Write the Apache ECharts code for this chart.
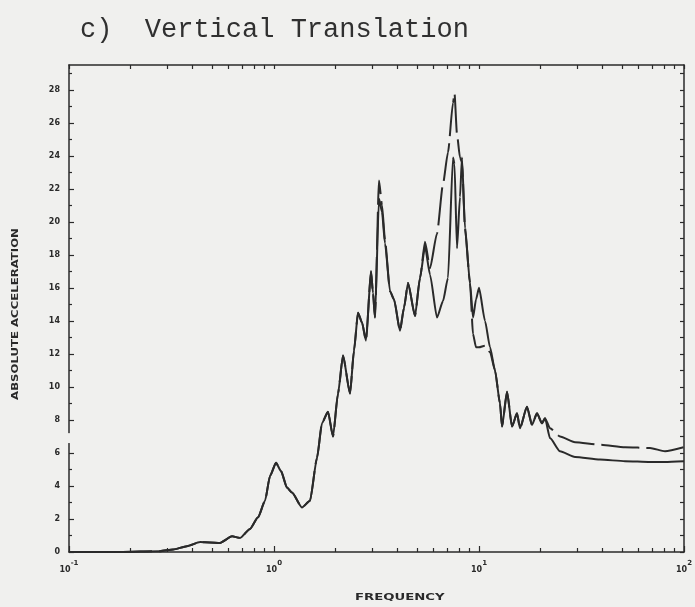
<!DOCTYPE html>
<html>
<head>
<meta charset="utf-8">
<script src="https://cdn.jsdelivr.net/npm/echarts@6/dist/echarts.min.js"></script>
<style>
  html, body { margin: 0; padding: 0; background: #f0f0ee; }
  #chart { width: 695px; height: 607px; }
</style>
</head>
<body>
<div id="chart"></div>
<script>
// Response spectrum, vertical translation: frequency (Hz) vs absolute acceleration
const frequency = [
  0.100, 0.178, 0.278, 0.322, 0.376, 0.436, 0.487, 0.545, 0.624, 0.683,
  0.764, 0.836, 0.904, 0.956, 1.023, 1.082, 1.157, 1.224, 1.369, 1.498,
  1.621, 1.714, 1.834, 1.940, 2.052, 2.171, 2.349, 2.456, 2.569, 2.687,
  2.810, 2.973, 3.040, 3.109, 3.252, 3.364, 3.479, 3.681, 3.850, 4.118,
  4.307, 4.506, 4.873, 5.154, 5.453, 5.768, 6.240, 6.674, 7.058, 7.467,
  7.593, 7.810, 8.077, 8.261, 8.546, 9.040, 9.350, 9.670, 10.00, 10.70,
  11.32, 11.97, 12.66, 12.95, 13.70, 14.49, 15.32, 15.85, 17.14, 18.13,
  19.18, 20.29, 20.99, 22.20, 24.84, 29.40, 38.92, 51.55, 68.26, 80.79,
  100.0
];
const solidAcc = [
  0, 0, 0.05, 0.15, 0.35, 0.6, 0.58, 0.55, 0.95, 0.85,
  1.4, 2.1, 3.1, 4.6, 5.4, 4.9, 3.9, 3.6, 2.7, 3.1,
  5.7, 7.8, 8.5, 7.0, 9.6, 11.9, 9.6, 12.2, 14.5, 13.9,
  12.8, 17.0, 15.7, 14.2, 21.4, 20.6, 18.7, 15.8, 15.3, 13.4,
  14.8, 16.3, 14.3, 16.6, 18.5, 16.8, 14.2, 15.2, 16.6, 23.9,
  23.5, 18.4, 21.5, 23.9, 19.6, 16.3, 14.2, 15.3, 16.0, 14.0,
  12.4, 11.0, 9.0, 7.6, 9.7, 7.6, 8.4, 7.5, 8.8, 7.7,
  8.4, 7.8, 8.1, 6.9, 6.1, 5.75, 5.6, 5.5, 5.45, 5.45,
  5.5
];
const dashedAcc = [
  0, 0, 0.05, 0.15, 0.35, 0.6, 0.58, 0.55, 0.95, 0.85,
  1.4, 2.1, 3.1, 4.6, 5.4, 4.9, 3.9, 3.6, 2.7, 3.1,
  5.7, 7.8, 8.5, 7.0, 9.6, 11.9, 9.6, 12.2, 14.5, 13.9,
  12.8, 17.0, 15.7, 14.2, 22.5, 21.0, 18.9, 15.8, 15.3, 13.4,
  14.8, 16.3, 14.3, 16.6, 18.8, 17.2, 19.3, 22.3, 24.2, 27.2,
  27.8, 25.3, 23.9, 23.6, 19.6, 16.3, 13.2, 12.4, 12.4, 12.5,
  12.1, 11.0, 9.0, 7.6, 9.7, 7.6, 8.4, 7.5, 8.8, 7.7,
  8.4, 7.8, 8.1, 7.5, 7.0, 6.65, 6.5, 6.35, 6.3, 6.1,
  6.35
];

// Axis tick positions
const decadeTicks = [0.1, 1, 10, 100];
const minorFreqTicks = [];
[0.1, 1, 10].forEach(d => { for (let k = 2; k <= 9; k++) minorFreqTicks.push(+(d * k).toPrecision(3)); });
const evenTicks = [], oddTicks = [], unitTicks = [];
for (let v = 0; v <= 29; v++) { unitTicks.push(v); (v % 2 ? oddTicks : evenTicks).push(v); }

const ink = '#2a2a2a';
const paper = '#f0f0ee';
const X_MIN = 0.1, X_MAX = 100, Y_MIN = 0, Y_MAX = 29.5;

const chart = echarts.init(document.getElementById('chart'), null, { renderer: 'canvas' });

function logAxis(extra) {
  return Object.assign({
    type: 'log', logBase: 10, min: X_MIN, max: X_MAX, gridIndex: 0,
    splitLine: { show: false }, minorSplitLine: { show: false },
    axisLine: { show: false, lineStyle: { color: ink, width: 1.5 } },
    axisLabel: { show: false },
    axisTick: { show: false }
  }, extra);
}
function valAxis(extra) {
  return Object.assign({
    type: 'value', min: Y_MIN, max: Y_MAX, gridIndex: 0,
    splitLine: { show: false },
    axisLine: { show: false, lineStyle: { color: ink, width: 1.5 } },
    axisLabel: { show: false },
    axisTick: { show: false }
  }, extra);
}

const option = {
  backgroundColor: paper,
  animation: false,
  title: {
    text: 'c)  Vertical Translation',
    left: 75, top: 11,
    textStyle: { fontFamily: '"Courier New", "Liberation Mono", monospace', fontSize: 27, fontWeight: 'normal', color: '#303030' }
  },
  grid: { left: 69, right: 10, top: 65, bottom: 55, containLabel: false },
  xAxis: [
    logAxis({
      position: 'bottom',
      axisLine: { show: true, onZero: false, lineStyle: { color: ink, width: 1.5 } },
      axisTick: { show: true, inside: true, length: 6, customValues: decadeTicks, lineStyle: { color: ink, width: 1.2 } },
      axisLabel: {
        show: true, margin: 6, customValues: decadeTicks,
        formatter: v => '{b|10}{s|' + Math.round(Math.log10(v)) + '}',
        rich: {
          b: { fontSize: 8, fontWeight: 'bold', fontFamily: 'DejaVu Sans', color: ink, padding: [8, 0, 0, 0] },
          s: { fontSize: 7, fontWeight: 'bold', fontFamily: 'DejaVu Sans', color: ink, padding: [0, 0, 6, 0] }
        }
      }
    }),
    logAxis({
      position: 'bottom',
      axisTick: { show: true, inside: true, length: 4, customValues: minorFreqTicks, lineStyle: { color: ink, width: 1.2 } }
    }),
    logAxis({
      position: 'top',
      axisLine: { show: true, onZero: false, lineStyle: { color: ink, width: 1.5 } },
      axisTick: { show: true, inside: true, length: 4, customValues: decadeTicks.concat(minorFreqTicks), lineStyle: { color: ink, width: 1.2 } }
    })
  ],
  yAxis: [
    valAxis({
      position: 'left',
      axisLine: { show: true, onZero: false, lineStyle: { color: ink, width: 1.5 } },
      axisTick: { show: true, inside: true, length: 5, customValues: evenTicks, lineStyle: { color: ink, width: 1.2 } },
      axisLabel: {
        show: true, margin: 9, customValues: evenTicks,
        fontSize: 8, fontWeight: 'bold', fontFamily: 'DejaVu Sans', color: ink
      }
    }),
    valAxis({
      position: 'left',
      axisTick: { show: true, inside: true, length: 3, customValues: oddTicks, lineStyle: { color: ink, width: 1.2 } }
    }),
    valAxis({
      position: 'right',
      axisLine: { show: true, onZero: false, lineStyle: { color: ink, width: 1.5 } },
      axisTick: { show: true, inside: true, length: 4, customValues: unitTicks, lineStyle: { color: ink, width: 1.2 } }
    })
  ],
  graphic: [
    {
      type: 'text', left: 355, top: 593,
      style: { text: 'FREQUENCY', font: 'bold 9px "DejaVu Sans"', fill: ink },
      scaleX: 1.47
    },
    {
      type: 'text', x: 16, y: 314, rotation: Math.PI / 2,
      style: { text: 'ABSOLUTE ACCELERATION', font: 'bold 9px "DejaVu Sans"', fill: ink, align: 'center', verticalAlign: 'middle' },
      scaleX: 1.3
    }
  ],
  series: [
    {
      name: 'solid', type: 'line', xAxisIndex: 0, yAxisIndex: 0,
      data: frequency.map((f, i) => [f, solidAcc[i]]),
      showSymbol: false, smooth: 0.2, smoothMonotone: 'x',
      lineStyle: { color: ink, width: 2 }
    },
    {
      name: 'dashed', type: 'line', xAxisIndex: 0, yAxisIndex: 0,
      data: frequency.map((f, i) => [f, dashedAcc[i]]),
      showSymbol: false, smooth: 0.2, smoothMonotone: 'x',
      lineStyle: { color: ink, width: 2, type: [38, 7] }
    }
  ]
};

chart.setOption(option);

// Break in the left axis line between 6.6 and 7.2
const yTop = chart.convertToPixel({ yAxisIndex: 0 }, 7.2);
const yBot = chart.convertToPixel({ yAxisIndex: 0 }, 6.6);
const xAx = chart.convertToPixel({ xAxisIndex: 0 }, X_MIN);
chart.setOption({
  graphic: option.graphic.concat([{
    type: 'rect', z: 100,
    shape: { x: xAx - 3, y: yTop, width: 6, height: yBot - yTop },
    style: { fill: paper }
  }])
});
</script>
</body>
</html>
